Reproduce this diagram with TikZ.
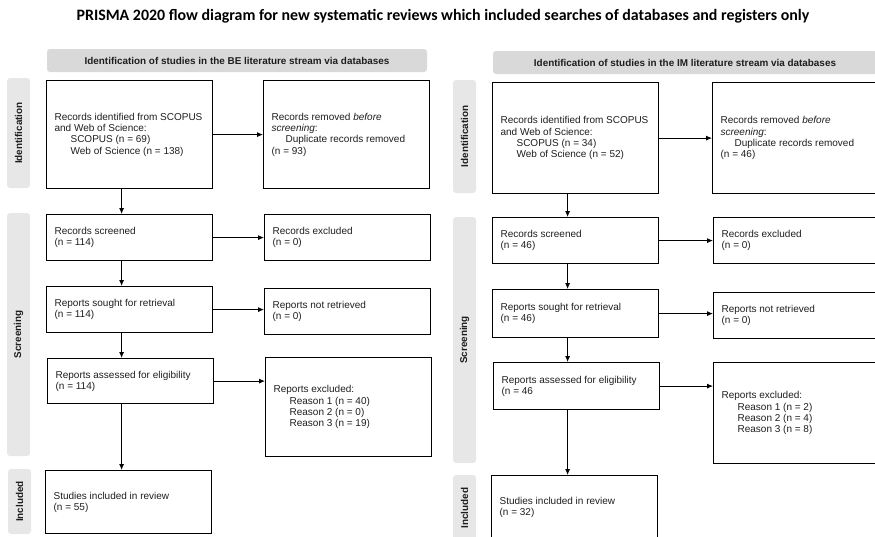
\documentclass[tikz,border=0pt]{standalone}
\usepackage{fontspec}
\setmainfont{Liberation Sans}
\newfontfamily\titlefont{Carlito}
\usetikzlibrary{arrows.meta}
\definecolor{headgray}{HTML}{D9D9D9}
\definecolor{sidegray}{HTML}{E7E7E7}
\definecolor{ink}{HTML}{1E1E1E}

\begin{document}
\begin{tikzpicture}[x=1pt,y=-1pt,
  box/.style={draw=black, line width=1.2pt, inner xsep=8pt, inner ysep=0pt,
    align=flush left, anchor=north west, text width=150pt,
    font=\fontsize{10}{11.3}\selectfont, text=ink},
  head/.style={fill=headgray, rounded corners=3pt, inner sep=0pt,
    font=\bfseries\fontsize{9.9}{11}\selectfont, text=ink},
  side/.style={fill=sidegray, rounded corners=3pt, inner sep=0pt, rotate=90,
    minimum height=23pt, font=\bfseries\fontsize{9.9}{11}\selectfont, text=ink},
  arr/.style={draw=black, line width=0.8pt, -{Latex[length=6pt,width=5pt]}}
]
\useasboundingbox (0,0) rectangle (875,536);
\clip (0,0) rectangle (875,536);

% title
\node[font=\titlefont\bfseries\fontsize{15.9}{18}\selectfont] (title) at (443,16)
  {PRISMA 2020 flow diagram for new systematic reviews which included searches of databases and registers only};

% ---------------- BE stream ----------------
\node[head, minimum width=380pt, minimum height=23pt] (Lhead) at (237,60.5)
  {Identification of studies in the BE literature stream via databases};

\node[side, minimum width=110pt] (Lidlab) at (18.5,133) {Identification};
\node[side, minimum width=243pt] (Lscrlab) at (18.5,334.5) {Screening};
\node[side, minimum width=65pt] (Linclab) at (19.5,501.5) {Included};

\node[box, minimum height=108pt] (Lid) at (46,80)
  {Records identified from SCOPUS\\and Web of Science:\\
   \hspace*{16pt}SCOPUS (n = 69)\\\hspace*{16pt}Web of Science (n = 138)};
\node[box, minimum height=108pt] (Lrem) at (263,80)
  {Records removed \textit{before}\\\textit{screening}:\\
   \hspace*{14pt}Duplicate records removed\\(n = 93)\\[2pt]};
\node[box, minimum height=46pt] (Lscr) at (46,214)
  {Records screened\\(n = 114)};
\node[box, minimum height=46pt] (Lexc) at (264,214)
  {Records excluded\\(n = 0)};
\node[box, minimum height=46pt] (Lsou) at (46,286)
  {Reports sought for retrieval\\(n = 114)};
\node[box, minimum height=46pt] (Lnr) at (264,288)
  {Reports not retrieved\\(n = 0)};
\node[box, minimum height=45pt] (Lass) at (47,358)
  {Reports assessed for eligibility\\(n = 114)};
\node[box, minimum height=99pt] (Lrex) at (265,357)
  {Reports excluded:\\\hspace*{16pt}Reason 1 (n = 40)\\
   \hspace*{16pt}Reason 2 (n = 0)\\\hspace*{16pt}Reason 3 (n = 19)};
\node[box, minimum height=63pt] (Linc) at (45,470)
  {Studies included in review\\(n = 55)};

\draw[arr] (Lid.east) -- (Lid.east -| Lrem.west);
\draw[arr] (Lscr.east) -- (Lscr.east -| Lexc.west);
\draw[arr] (Lsou.east) -- (Lsou.east -| Lnr.west);
\draw[arr] (Lass.east) -- (Lass.east -| Lrex.west);
\draw[arr] ([xshift=-8pt]Lid.south) -- ([xshift=-8pt]Lid.south |- Lscr.north);
\draw[arr] ([xshift=-8pt]Lscr.south) -- ([xshift=-8pt]Lscr.south |- Lsou.north);
\draw[arr] ([xshift=-8pt]Lsou.south) -- ([xshift=-8pt]Lsou.south |- Lass.north);
\draw[arr] ([xshift=-9pt]Lass.south) -- ([xshift=-9pt]Lass.south |- Linc.north);

% ---------------- IM stream ----------------
\node[head, minimum width=384pt, minimum height=23pt] (Rhead) at (685,62.5)
  {Identification of studies in the IM literature stream via databases};

\node[side, minimum width=113pt] (Ridlab) at (464.5,136.5) {Identification};
\node[side, minimum width=246pt] (Rscrlab) at (464.5,340) {Screening};
\node[side, minimum width=66pt] (Rinclab) at (464.5,508) {Included};

\node[box, minimum height=111pt] (Rid) at (492,82)
  {Records identified from SCOPUS\\and Web of Science:\\
   \hspace*{16pt}SCOPUS (n = 34)\\\hspace*{16pt}Web of Science (n = 52)};
\node[box, minimum height=111pt] (Rrem) at (712,82)
  {Records removed \textit{before}\\\textit{screening}:\\
   \hspace*{14pt}Duplicate records removed\\(n = 46)\\[2pt]};
\node[box, minimum height=46pt] (Rscr) at (492,217)
  {Records screened\\(n = 46)};
\node[box, minimum height=46pt] (Rexc) at (713,217)
  {Records excluded\\(n = 0)};
\node[box, minimum height=48pt] (Rsou) at (492,289)
  {Reports sought for retrieval\\(n = 46)};
\node[box, minimum height=46pt] (Rnr) at (713,292)
  {Reports not retrieved\\(n = 0)};
\node[box, minimum height=47pt] (Rass) at (493,362)
  {Reports assessed for eligibility\\(n = 46};
\node[box, minimum height=101pt] (Rrex) at (713,362)
  {Reports excluded:\\\hspace*{16pt}Reason 1 (n = 2)\\
   \hspace*{16pt}Reason 2 (n = 4)\\\hspace*{16pt}Reason 3 (n = 8)};
\node[box, minimum height=63pt] (Rinc) at (491,475)
  {Studies included in review\\(n = 32)};

\draw[arr] (Rid.east) -- (Rid.east -| Rrem.west);
\draw[arr] (Rscr.east) -- (Rscr.east -| Rexc.west);
\draw[arr] (Rsou.east) -- (Rsou.east -| Rnr.west);
\draw[arr] (Rass.east) -- (Rass.east -| Rrex.west);
\draw[arr] ([xshift=-8pt]Rid.south) -- ([xshift=-8pt]Rid.south |- Rscr.north);
\draw[arr] ([xshift=-8pt]Rscr.south) -- ([xshift=-8pt]Rscr.south |- Rsou.north);
\draw[arr] ([xshift=-8pt]Rsou.south) -- ([xshift=-8pt]Rsou.south |- Rass.north);
\draw[arr] ([xshift=-9pt]Rass.south) -- ([xshift=-9pt]Rass.south |- Rinc.north);
\end{tikzpicture}
\end{document}
